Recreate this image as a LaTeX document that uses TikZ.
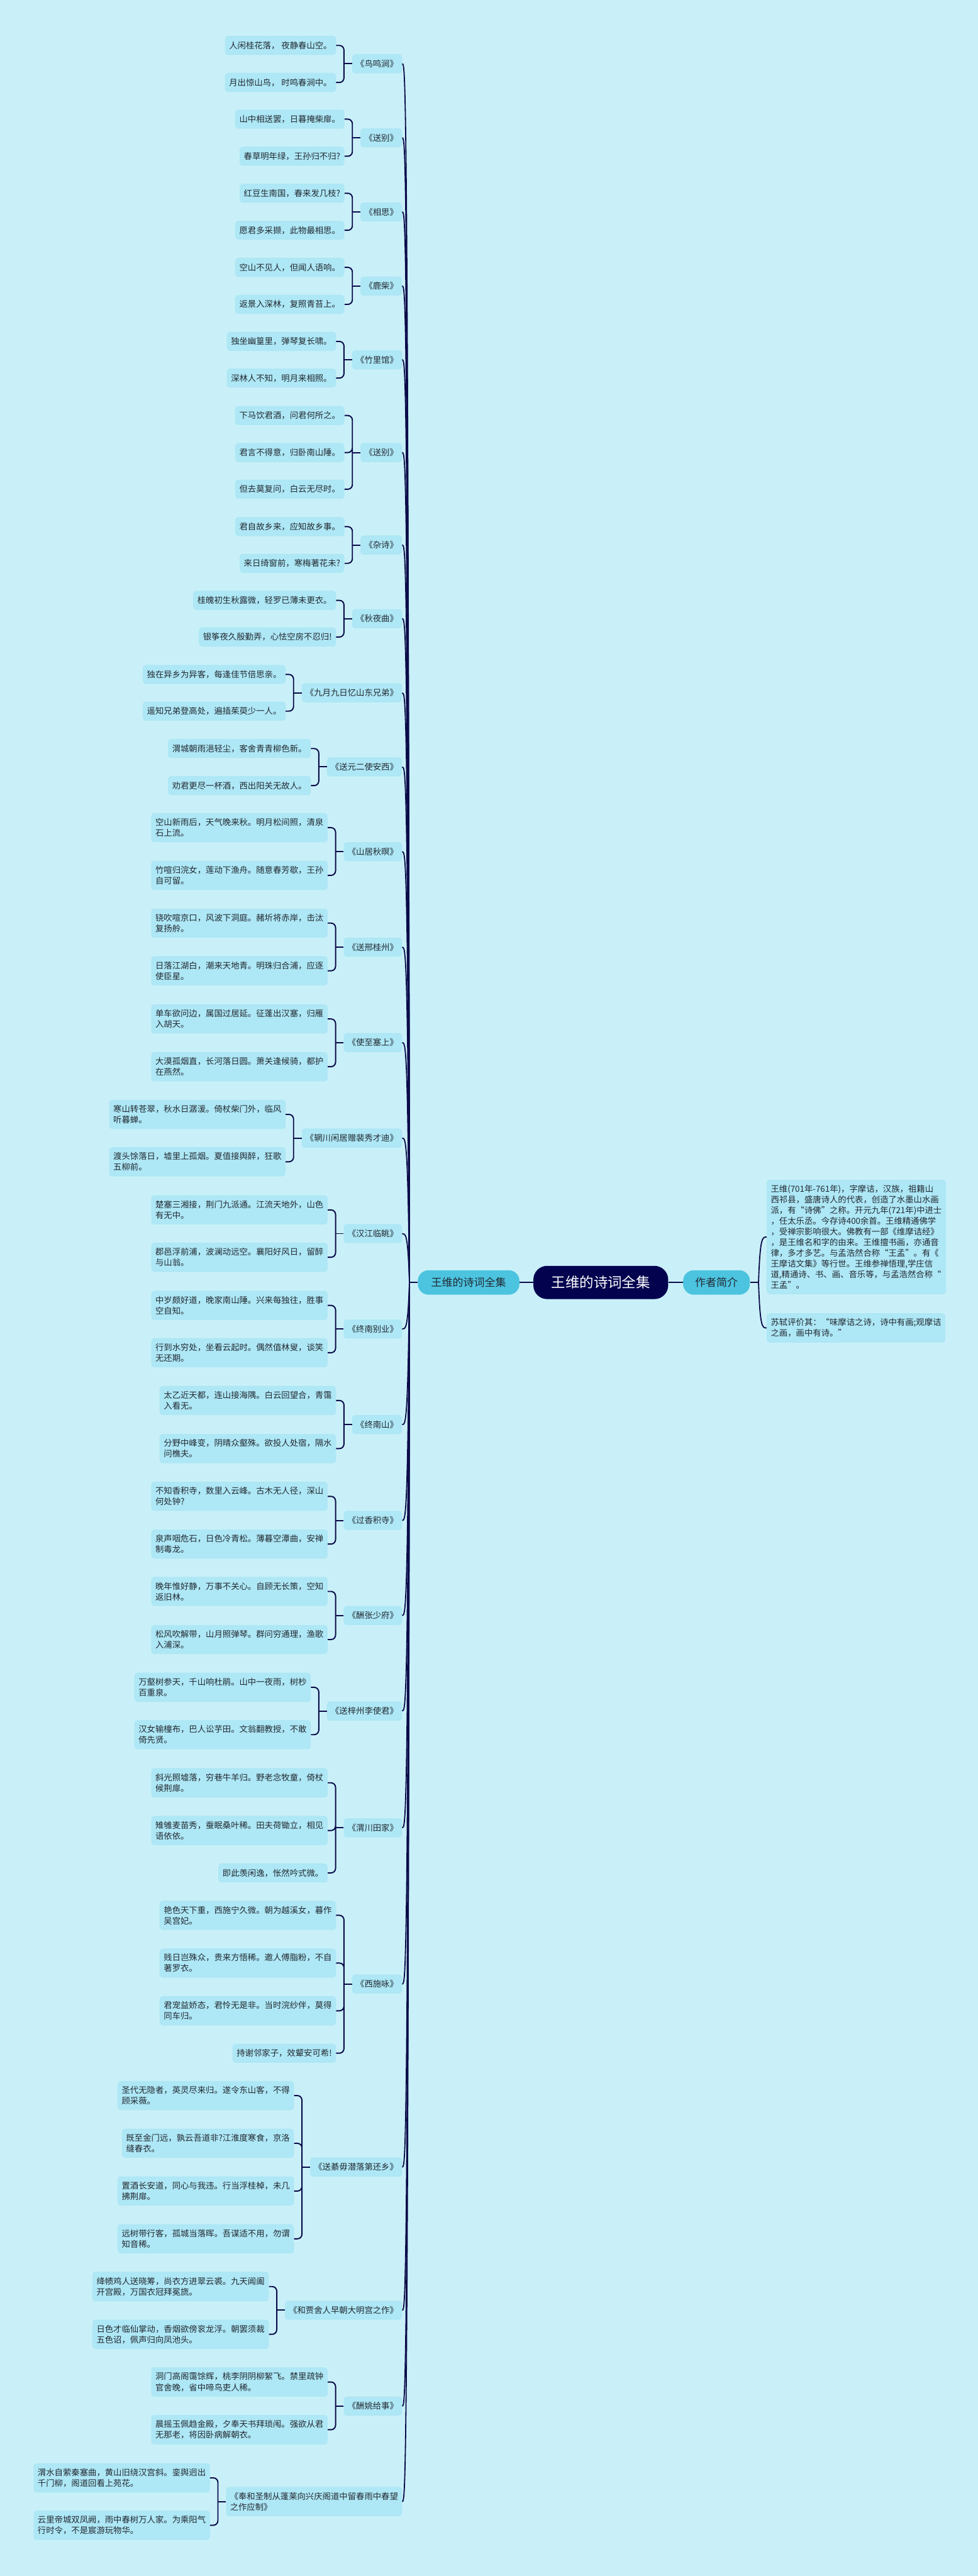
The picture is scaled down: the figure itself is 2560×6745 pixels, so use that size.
\documentclass[tikz,border=0pt]{standalone}
\usepackage{fontspec}
\newfontfamily\cjk{Noto Sans CJK SC}
\definecolor{bgcyan}{HTML}{C9F0F8}
\definecolor{leafcyan}{HTML}{AEE7F5}
\definecolor{hubcyan}{HTML}{4CC4E0}
\definecolor{rootnavy}{HTML}{02024F}
\definecolor{inkline}{HTML}{0B0B4A}
\definecolor{ink}{HTML}{222A33}
\begin{document}
\begin{tikzpicture}[x=1pt, y=-1pt, every node/.style={font=\cjk},
    verse/.style={fill=leafcyan, rounded corners=8pt, text=ink, font=\cjk\fontsize{22pt}{28pt}\selectfont, inner xsep=11pt, inner ysep=14pt, minimum height=50pt, align=left, anchor=east},
    poem/.style={verse, inner xsep=10.5pt},
    hub/.style={fill=hubcyan, rounded corners=28pt, text=ink, font=\cjk\fontsize{28pt}{34pt}\selectfont, minimum height=64pt},
    link/.style={draw=inkline, line width=3pt},
    brk/.style={draw=inkline, line width=3.2pt, rounded corners=12pt},
    trunk/.style={draw=inkline, line width=4pt}]
    \fill[bgcyan] (0,0) rectangle (2560,6745);
    \useasboundingbox (0,0) rectangle (2560,6745);

    \node[hub, minimum width=266pt] (hubL) at (1227,3358) {王维的诗词全集};
    \node[fill=rootnavy, rounded corners=36pt, text=white, font=\cjk\fontsize{37pt}{44pt}\selectfont, minimum width=353pt, minimum height=87pt] (root) at (1573,3358) {王维的诗词全集};
    \node[hub, minimum width=175pt] (intro) at (1876,3358) {作者简介};

    \node[verse, anchor=west] (bio) at (2007,3239) {王维(701年-761年)，字摩诘，汉族，祖籍山\\西祁县，盛唐诗人的代表，创造了水墨山水画\\派，有“诗佛”之称。开元九年(721年)中进士\\，任太乐丞。今存诗400余首。王维精通佛学\\，受禅宗影响很大。佛教有一部《维摩诘经》\\，是王维名和字的由来。王维擅书画，亦通音\\律，多才多艺。与孟浩然合称“王孟”。有《\\王摩诘文集》等行世。王维参禅悟理,学庄信\\道,精通诗、书、画、音乐等，与孟浩然合称“\\王孟”。};
    \node[verse, anchor=west] (remark) at (2007,3477) {苏轼评价其：“味摩诘之诗，诗中有画;观摩诘\\之画，画中有诗。”};

    \node[poem] (p1) at (1053,167) {《鸟鸣涧》};
    \node[verse] (p1a) at (880,119) {人闲桂花落， 夜静春山空。};
    \node[verse] (p1b) at (880,216) {月出惊山鸟， 时鸣春涧中。};

    \node[poem] (p2) at (1053,361) {《送别》};
    \node[verse] (p2a) at (902,312) {山中相送罢，日暮掩柴扉。};
    \node[verse] (p2b) at (902,409) {春草明年绿，王孙归不归?};

    \node[poem] (p3) at (1053,555) {《相思》};
    \node[verse] (p3a) at (902,506) {红豆生南国，春来发几枝?};
    \node[verse] (p3b) at (902,603) {愿君多采撷，此物最相思。};

    \node[poem] (p4) at (1053,749) {《鹿柴》};
    \node[verse] (p4a) at (902,700) {空山不见人，但闻人语响。};
    \node[verse] (p4b) at (902,797) {返景入深林，复照青苔上。};

    \node[poem] (p5) at (1053,942) {《竹里馆》};
    \node[verse] (p5a) at (880,894) {独坐幽篁里，弹琴复长啸。};
    \node[verse] (p5b) at (880,990) {深林人不知，明月来相照。};

    \node[poem] (p6) at (1053,1185) {《送别》};
    \node[verse] (p6a) at (902,1088) {下马饮君酒，问君何所之。};
    \node[verse] (p6b) at (902,1185) {君言不得意，归卧南山陲。};
    \node[verse] (p6c) at (902,1281) {但去莫复问，白云无尽时。};

    \node[poem] (p7) at (1053,1427) {《杂诗》};
    \node[verse] (p7a) at (902,1379) {君自故乡来，应知故乡事。};
    \node[verse] (p7b) at (902,1475) {来日绮窗前，寒梅著花未?};

    \node[poem] (p8) at (1053,1620) {《秋夜曲》};
    \node[verse] (p8a) at (880,1572) {桂魄初生秋露微，轻罗已薄未更衣。};
    \node[verse] (p8b) at (880,1668) {银筝夜久殷勤弄，心怯空房不忍归!};

    \node[poem] (p9) at (1053,1814) {《九月九日忆山东兄弟》};
    \node[verse] (p9a) at (748,1766) {独在异乡为异客，每逢佳节倍思亲。};
    \node[verse] (p9b) at (748,1862) {遥知兄弟登高处，遍插茱萸少一人。};

    \node[poem] (p10) at (1053,2008) {《送元二使安西》};
    \node[verse] (p10a) at (814,1960) {渭城朝雨浥轻尘，客舍青青柳色新。};
    \node[verse] (p10b) at (814,2057) {劝君更尽一杯酒，西出阳关无故人。};

    \node[poem] (p11) at (1053,2230) {《山居秋暝》};
    \node[verse] (p11a) at (858,2167) {空山新雨后，天气晚来秋。明月松间照，清泉\\石上流。};
    \node[verse] (p11b) at (858,2292) {竹喧归浣女，莲动下渔舟。随意春芳歇，王孙\\自可留。};

    \node[poem] (p12) at (1053,2480) {《送邢桂州》};
    \node[verse] (p12a) at (858,2417) {铙吹喧京口，风波下洞庭。赭圻将赤岸，击汰\\复扬舲。};
    \node[verse] (p12b) at (858,2542) {日落江湖白，潮来天地青。明珠归合浦，应逐\\使臣星。};

    \node[poem] (p13) at (1053,2730) {《使至塞上》};
    \node[verse] (p13a) at (858,2668) {单车欲问边，属国过居延。征蓬出汉塞，归雁\\入胡天。};
    \node[verse] (p13b) at (858,2793) {大漠孤烟直，长河落日圆。萧关逢候骑，都护\\在燕然。};

    \node[poem] (p14) at (1053,2980) {《辋川闲居赠裴秀才迪》};
    \node[verse] (p14a) at (748,2918) {寒山转苍翠，秋水日潺湲。倚杖柴门外，临风\\听暮蝉。};
    \node[verse] (p14b) at (748,3042) {渡头馀落日，墟里上孤烟。夏值接舆醉，狂歌\\五柳前。};

    \node[poem] (p15) at (1053,3230) {《汉江临眺》};
    \node[verse] (p15a) at (858,3168) {楚塞三湘接，荆门九派通。江流天地外，山色\\有无中。};
    \node[verse] (p15b) at (858,3292) {郡邑浮前浦，波澜动远空。襄阳好风日，留醉\\与山翁。};

    \node[poem] (p16) at (1053,3480) {《终南别业》};
    \node[verse] (p16a) at (858,3418) {中岁颇好道，晚家南山陲。兴来每独往，胜事\\空自知。};
    \node[verse] (p16b) at (858,3542) {行到水穷处，坐看云起时。偶然值林叟，谈笑\\无还期。};

    \node[poem] (p17) at (1053,3730) {《终南山》};
    \node[verse] (p17a) at (880,3667) {太乙近天都，连山接海隅。白云回望合，青霭\\入看无。};
    \node[verse] (p17b) at (880,3793) {分野中峰变，阴晴众壑殊。欲投人处宿，隔水\\问樵夫。};

    \node[poem] (p18) at (1053,3981) {《过香积寺》};
    \node[verse] (p18a) at (858,3918) {不知香积寺，数里入云峰。古木无人径，深山\\何处钟?};
    \node[verse] (p18b) at (858,4043) {泉声咽危石，日色冷青松。薄暮空潭曲，安禅\\制毒龙。};

    \node[poem] (p19) at (1053,4230) {《酬张少府》};
    \node[verse] (p19a) at (858,4167) {晚年惟好静，万事不关心。自顾无长策，空知\\返旧林。};
    \node[verse] (p19b) at (858,4293) {松风吹解带，山月照弹琴。群问穷通理，渔歌\\入浦深。};

    \node[poem] (p20) at (1053,4480) {《送梓州李使君》};
    \node[verse] (p20a) at (814,4418) {万壑树参天，千山响杜鹃。山中一夜雨，树杪\\百重泉。};
    \node[verse] (p20b) at (814,4542) {汉女输橦布，巴人讼芋田。文翁翻教授，不敢\\倚先贤。};

    \node[poem] (p21) at (1053,4786) {《渭川田家》};
    \node[verse] (p21a) at (858,4668) {斜光照墟落，穷巷牛羊归。野老念牧童，倚杖\\候荆扉。};
    \node[verse] (p21b) at (858,4793) {雉雊麦苗秀，蚕眠桑叶稀。田夫荷锄立，相见\\语依依。};
    \node[verse] (p21c) at (858,4904) {即此羡闲逸，怅然吟式微。};

    \node[poem] (p22) at (1053,5195) {《西施咏》};
    \node[verse] (p22a) at (880,5015) {艳色天下重，西施宁久微。朝为越溪女，暮作\\吴宫妃。};
    \node[verse] (p22b) at (880,5140) {贱日岂殊众，贵来方悟稀。邀人傅脂粉，不自\\著罗衣。};
    \node[verse] (p22c) at (880,5265) {君宠益娇态，君怜无是非。当时浣纱伴，莫得\\同车归。};
    \node[verse] (p22d) at (880,5376) {持谢邻家子，效颦安可希!};

    \node[poem] (p23) at (1053,5674) {《送綦毋潜落第还乡》};
    \node[verse] (p23a) at (770,5487) {圣代无隐者，英灵尽来归。遂令东山客，不得\\顾采薇。};
    \node[verse] (p23b) at (770,5612) {既至金门远，孰云吾道非?江淮度寒食，京洛\\缝春衣。};
    \node[verse] (p23c) at (770,5737) {置酒长安道，同心与我违。行当浮桂棹，未几\\拂荆扉。};
    \node[verse] (p23d) at (770,5862) {远树带行客，孤城当落晖。吾谋适不用，勿谓\\知音稀。};

    \node[poem] (p24) at (1053,6049) {《和贾舍人早朝大明宫之作》};
    \node[verse] (p24a) at (704,5987) {绛帻鸡人送晓筹，尚衣方进翠云裘。九天阊阖\\开宫殿，万国衣冠拜冕旒。};
    \node[verse] (p24b) at (704,6112) {日色才临仙掌动，香烟欲傍衮龙浮。朝罢须裁\\五色诏，佩声归向凤池头。};

    \node[poem] (p25) at (1053,6300) {《酬姚给事》};
    \node[verse] (p25a) at (858,6237) {洞门高阁霭馀辉，桃李阴阴柳絮飞。禁里疏钟\\官舍晚，省中啼鸟吏人稀。};
    \node[verse] (p25b) at (858,6362) {晨摇玉佩趋金殿，夕奉天书拜琐闱。强欲从君\\无那老，将因卧病解朝衣。};

    \node[poem] (p26) at (1053,6550) {《奉和圣制从蓬莱向兴庆阁道中留春雨中春望\\之作应制》};
    \node[verse] (p26a) at (550,6488) {渭水自萦秦塞曲，黄山旧绕汉宫斜。銮舆迥出\\千门柳，阁道回看上苑花。};
    \node[verse] (p26b) at (550,6612) {云里帝城双凤阙，雨中春树万人家。为乘阳气\\行时令，不是宸游玩物华。};

    \draw[trunk] (hubL) -- (root);
    \draw[trunk] (root) -- (intro);
    \draw[link] (intro.east) -- (1986,3358) coordinate (spR);
    \draw[link] (spR) .. controls (1990,3239) and (1996,3239) .. (bio.west);
    \draw[link] (spR) .. controls (1990,3477) and (1996,3477) .. (remark.west);

    \draw[link] (hubL.west) -- (1072,3358) coordinate (spL);
    \draw[link] (spL) .. controls (1068,167) and (1062,167) .. (p1.east);
    \draw[link] (spL) .. controls (1068,361) and (1062,361) .. (p2.east);
    \draw[link] (spL) .. controls (1068,555) and (1062,555) .. (p3.east);
    \draw[link] (spL) .. controls (1068,749) and (1062,749) .. (p4.east);
    \draw[link] (spL) .. controls (1068,942) and (1062,942) .. (p5.east);
    \draw[link] (spL) .. controls (1068,1185) and (1062,1185) .. (p6.east);
    \draw[link] (spL) .. controls (1068,1427) and (1062,1427) .. (p7.east);
    \draw[link] (spL) .. controls (1068,1620) and (1062,1620) .. (p8.east);
    \draw[link] (spL) .. controls (1068,1814) and (1062,1814) .. (p9.east);
    \draw[link] (spL) .. controls (1068,2008) and (1062,2008) .. (p10.east);
    \draw[link] (spL) .. controls (1068,2230) and (1062,2230) .. (p11.east);
    \draw[link] (spL) .. controls (1068,2480) and (1062,2480) .. (p12.east);
    \draw[link] (spL) .. controls (1068,2730) and (1062,2730) .. (p13.east);
    \draw[link] (spL) .. controls (1068,2980) and (1062,2980) .. (p14.east);
    \draw[link] (spL) .. controls (1068,3230) and (1062,3230) .. (p15.east);
    \draw[link] (spL) .. controls (1068,3480) and (1062,3480) .. (p16.east);
    \draw[link] (spL) .. controls (1068,3730) and (1062,3730) .. (p17.east);
    \draw[link] (spL) .. controls (1068,3981) and (1062,3981) .. (p18.east);
    \draw[link] (spL) .. controls (1068,4230) and (1062,4230) .. (p19.east);
    \draw[link] (spL) .. controls (1068,4480) and (1062,4480) .. (p20.east);
    \draw[link] (spL) .. controls (1068,4786) and (1062,4786) .. (p21.east);
    \draw[link] (spL) .. controls (1068,5195) and (1062,5195) .. (p22.east);
    \draw[link] (spL) .. controls (1068,5674) and (1062,5674) .. (p23.east);
    \draw[link] (spL) .. controls (1068,6049) and (1062,6049) .. (p24.east);
    \draw[link] (spL) .. controls (1068,6300) and (1062,6300) .. (p25.east);
    \draw[link] (spL) .. controls (1068,6550) and (1062,6550) .. (p26.east);

    \draw[brk] (p1.west) -- ++(-21,0) coordinate (j1);
    \draw[brk] (j1) |- (p1a.east) (j1) |- (p1b.east);
    \draw[brk] (p2.west) -- ++(-21,0) coordinate (j2);
    \draw[brk] (j2) |- (p2a.east) (j2) |- (p2b.east);
    \draw[brk] (p3.west) -- ++(-21,0) coordinate (j3);
    \draw[brk] (j3) |- (p3a.east) (j3) |- (p3b.east);
    \draw[brk] (p4.west) -- ++(-21,0) coordinate (j4);
    \draw[brk] (j4) |- (p4a.east) (j4) |- (p4b.east);
    \draw[brk] (p5.west) -- ++(-21,0) coordinate (j5);
    \draw[brk] (j5) |- (p5a.east) (j5) |- (p5b.east);
    \draw[brk] (p6.west) -- ++(-21,0) coordinate (j6);
    \draw[brk] (j6) |- (p6a.east) (j6) |- (p6b.east) (j6) |- (p6c.east);
    \draw[brk] (p7.west) -- ++(-21,0) coordinate (j7);
    \draw[brk] (j7) |- (p7a.east) (j7) |- (p7b.east);
    \draw[brk] (p8.west) -- ++(-21,0) coordinate (j8);
    \draw[brk] (j8) |- (p8a.east) (j8) |- (p8b.east);
    \draw[brk] (p9.west) -- ++(-21,0) coordinate (j9);
    \draw[brk] (j9) |- (p9a.east) (j9) |- (p9b.east);
    \draw[brk] (p10.west) -- ++(-21,0) coordinate (j10);
    \draw[brk] (j10) |- (p10a.east) (j10) |- (p10b.east);
    \draw[brk] (p11.west) -- ++(-21,0) coordinate (j11);
    \draw[brk] (j11) |- (p11a.east) (j11) |- (p11b.east);
    \draw[brk] (p12.west) -- ++(-21,0) coordinate (j12);
    \draw[brk] (j12) |- (p12a.east) (j12) |- (p12b.east);
    \draw[brk] (p13.west) -- ++(-21,0) coordinate (j13);
    \draw[brk] (j13) |- (p13a.east) (j13) |- (p13b.east);
    \draw[brk] (p14.west) -- ++(-21,0) coordinate (j14);
    \draw[brk] (j14) |- (p14a.east) (j14) |- (p14b.east);
    \draw[brk] (p15.west) -- ++(-21,0) coordinate (j15);
    \draw[brk] (j15) |- (p15a.east) (j15) |- (p15b.east);
    \draw[brk] (p16.west) -- ++(-21,0) coordinate (j16);
    \draw[brk] (j16) |- (p16a.east) (j16) |- (p16b.east);
    \draw[brk] (p17.west) -- ++(-21,0) coordinate (j17);
    \draw[brk] (j17) |- (p17a.east) (j17) |- (p17b.east);
    \draw[brk] (p18.west) -- ++(-21,0) coordinate (j18);
    \draw[brk] (j18) |- (p18a.east) (j18) |- (p18b.east);
    \draw[brk] (p19.west) -- ++(-21,0) coordinate (j19);
    \draw[brk] (j19) |- (p19a.east) (j19) |- (p19b.east);
    \draw[brk] (p20.west) -- ++(-21,0) coordinate (j20);
    \draw[brk] (j20) |- (p20a.east) (j20) |- (p20b.east);
    \draw[brk] (p21.west) -- ++(-21,0) coordinate (j21);
    \draw[brk] (j21) |- (p21a.east) (j21) |- (p21b.east) (j21) |- (p21c.east);
    \draw[brk] (p22.west) -- ++(-21,0) coordinate (j22);
    \draw[brk] (j22) |- (p22a.east) (j22) |- (p22b.east) (j22) |- (p22c.east) (j22) |- (p22d.east);
    \draw[brk] (p23.west) -- ++(-21,0) coordinate (j23);
    \draw[brk] (j23) |- (p23a.east) (j23) |- (p23b.east) (j23) |- (p23c.east) (j23) |- (p23d.east);
    \draw[brk] (p24.west) -- ++(-21,0) coordinate (j24);
    \draw[brk] (j24) |- (p24a.east) (j24) |- (p24b.east);
    \draw[brk] (p25.west) -- ++(-21,0) coordinate (j25);
    \draw[brk] (j25) |- (p25a.east) (j25) |- (p25b.east);
    \draw[brk] (p26.west) -- ++(-21,0) coordinate (j26);
    \draw[brk] (j26) |- (p26a.east) (j26) |- (p26b.east);
\end{tikzpicture}
\end{document}
